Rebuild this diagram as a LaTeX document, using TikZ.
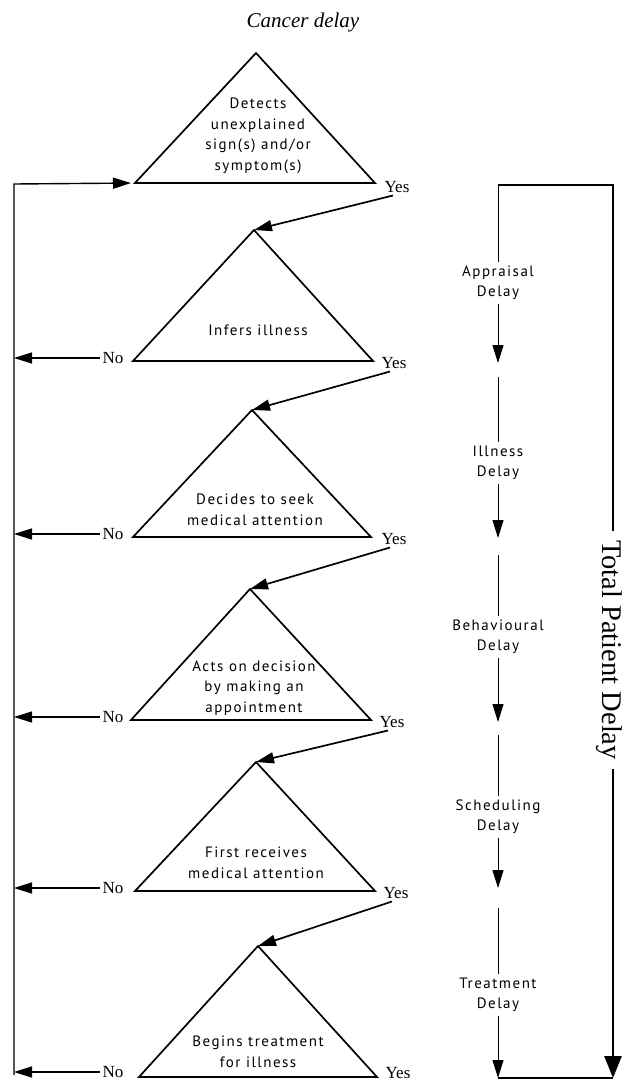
\documentclass[tikz,border=0pt]{standalone}
\usepackage{fontspec}
\setmainfont{Liberation Serif}
\newfontfamily\stepfont[LetterSpace=10]{PT Sans}
\usetikzlibrary{arrows.meta,positioning}

\begin{document}
\begin{tikzpicture}
  [
  x=1pt, y=-1pt, line width=1.7pt, >={Triangle[length=18pt,width=11pt]},
  stepnode/.style={align=center, inner sep=0pt, font=\stepfont\fontsize{15}{20.5}\selectfont},
  delaynode/.style={align=center, inner sep=3pt, font=\stepfont\fontsize{15}{20}\selectfont},
  ansnode/.style={inner sep=2pt, font=\fontsize{17}{18}\selectfont},
  frameline/.style={line width=1.4pt},
  axisline/.style={line width=1pt},
  heavyline/.style={line width=2.8pt},
  ]

  \useasboundingbox (0,0) rectangle (623,1082);
  \node[font=\itshape\fontsize{21}{24}\selectfont] (title) at (303,22) {Cancer delay};

  % the six decision steps
  \coordinate (t1) at (256,53);  \coordinate (l1) at (135,183);  \coordinate (r1) at (375,183);
  \coordinate (t2) at (254,230); \coordinate (l2) at (133,361);  \coordinate (r2) at (373,361);
  \coordinate (t3) at (252,410); \coordinate (l3) at (133,537);  \coordinate (r3) at (371,537);
  \coordinate (t4) at (250,589); \coordinate (l4) at (131,720);  \coordinate (r4) at (371,720);
  \coordinate (t5) at (256,762); \coordinate (l5) at (135,891);  \coordinate (r5) at (375,891);
  \coordinate (t6) at (258,946); \coordinate (l6) at (139,1077); \coordinate (r6) at (377,1077);

  \draw (t1) -- (l1) -- (r1) -- cycle;
  \draw (t2) -- (l2) -- (r2) -- cycle;
  \draw (t3) -- (l3) -- (r3) -- cycle;
  \draw (t4) -- (l4) -- (r4) -- cycle;
  \draw (t5) -- (l5) -- (r5) -- cycle;
  \draw (t6) -- (l6) -- (r6) -- cycle;

  \node[stepnode] (detects) at (258,136) {Detects\\unexplained\\sign(s) and/or\\symptom(s)};
  \node[stepnode] (infers) at (258,330) {Infers illness};
  \node[stepnode] (decides) at (255,510) {Decides to seek\\medical attention};
  \node[stepnode] (acts) at (254,688) {Acts on decision\\by making an\\appointment};
  \node[stepnode] (receives) at (256,863) {First receives\\medical attention};
  \node[stepnode] (begins) at (258,1052) {Begins treatment\\for illness};

  \node[ansnode] (yes1) at (397,187) {Yes};
  \node[ansnode] (yes2) at (394,363) {Yes};
  \node[ansnode] (yes3) at (394,539) {Yes};
  \node[ansnode] (yes4) at (392,722) {Yes};
  \node[ansnode] (yes5) at (396,893) {Yes};
  \node[ansnode] (yes6) at (398,1073) {Yes};

  \node[ansnode] (no2) at (113,358) {No};
  \node[ansnode] (no3) at (113,534) {No};
  \node[ansnode] (no4) at (113,717) {No};
  \node[ansnode] (no5) at (113,888) {No};
  \node[ansnode] (no6) at (113,1072) {No};

  \draw[->] ([xshift=-4pt]yes1.south) -- (t2);
  \draw[->] ([xshift=-4pt]yes2.south) -- (t3);
  \draw[->] ([xshift=-4pt]yes3.south) -- (t4);
  \draw[->] ([xshift=-4pt]yes4.south) -- (t5);
  \draw[->] ([xshift=-4pt]yes5.south) -- (t6);

  % return line on the left
  \coordinate (ftop) at (14,184);
  \coordinate (fbot) at (14,1075);
  \draw[frameline,->,shorten >=4pt] (fbot) -- (ftop) -- (l1);
  \draw[frameline,->] (no2.west) -- (no2.west -| ftop);
  \draw[frameline,->] (no3.west) -- (no3.west -| ftop);
  \draw[frameline,->] (no4.west) -- (no4.west -| ftop);
  \draw[frameline,->] (no5.west) -- (no5.west -| ftop);
  \draw[frameline,->] (no6.west) -- (no6.west -| ftop);

  % delay axis
  \coordinate (dtop) at (498,185);
  \coordinate (apprtip) at (498,363);
  \coordinate (illstart) at (498,377);
  \coordinate (illtip) at (498,538);
  \coordinate (behstart) at (498,555);
  \coordinate (behtip) at (498,722);
  \coordinate (schstart) at (498,735);
  \coordinate (schtip) at (498,888);
  \coordinate (trtstart) at (498,908);
  \coordinate (dbot) at (498,1078);
  \coordinate (btop) at (613,185);
  \coordinate (bbot) at (613,1078);

  \node[delaynode] (appraisal) at (498,283) {Appraisal\\Delay};
  \node[delaynode] (illness) at (498,463) {Illness\\Delay};
  \node[delaynode] (behavioural) at (498,637) {Behavioural\\Delay};
  \node[delaynode] (scheduling) at (498,817) {Scheduling\\Delay};
  \node[delaynode] (treatment) at (498,995) {Treatment\\Delay};

  \draw[axisline] (dtop) -- (appraisal);
  \draw[axisline,->] (appraisal) -- (apprtip);
  \draw[axisline] (illstart) -- (illness);
  \draw[axisline,->] (illness) -- (illtip);
  \draw[axisline] (behstart) -- (behavioural);
  \draw[axisline,->] (behavioural) -- (behtip);
  \draw[axisline] (schstart) -- (scheduling);
  \draw[axisline,->] (scheduling) -- (schtip);
  \draw[axisline] (trtstart) -- (treatment);
  \draw[axisline,->] (treatment) -- (dbot);

  % total bracket
  \node[rotate=-90, inner sep=8pt, font=\fontsize{28.5}{30}\selectfont] (total) at (609,650) {Total Patient Delay};
  \draw[heavyline] (dtop) -- (btop) -- (btop |- total.west);
  \draw[heavyline,-{Triangle[length=22pt,width=17pt]}] (btop |- total.east) -- (bbot);
  \draw[heavyline] (dbot) -- (bbot);
\end{tikzpicture}
\end{document}
